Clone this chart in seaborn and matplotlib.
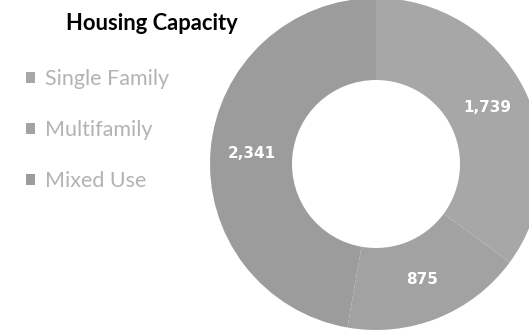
import matplotlib
matplotlib.use("Agg")
import matplotlib.pyplot as plt
import seaborn as sns

# housing capacity by type
categories = ["Single Family", "Multifamily", "Mixed Use"]
units = [1739, 875, 2341]
greys = ["#a7a7a7", "#a2a2a2", "#9c9c9c"]

sns.set_theme(style="white")
plt.rcParams["font.family"] = ["Lato", "DejaVu Sans"]

fig = plt.figure(figsize=(5.29, 3.30), dpi=100)
# pie centred at about (376, 164) px, radius ~166 px
ax = fig.add_axes([(376 - 166) / 529, (330 - 164 - 166) / 330, 332 / 529, 332 / 330])

wedges, texts, autotexts = ax.pie(
    units,
    colors=greys,
    startangle=90,
    counterclock=False,
    autopct=lambda p: f"{p * sum(units) / 100:,.0f}",
    pctdistance=0.75,
    wedgeprops=dict(width=0.494, edgecolor="none"),
    textprops=dict(color="white", fontsize=11, fontweight="bold", family="DejaVu Sans"),
)
ax.set_xlim(-1, 1)
ax.set_ylim(-1, 1)
ax.set_aspect("equal")
ax.axis("off")

fig.text(152 / 529, 1 - 23 / 330, "Housing Capacity", ha="center", va="center",
         fontsize=15.8, fontweight="bold", color="black")

fig.legend(wedges, categories, loc="upper left",
           bbox_to_anchor=(26 / 529, 1 - 69 / 330),
           frameon=False, fontsize=15.5, labelcolor="#b3b3b3",
           handlelength=0.42, handleheight=0.42, handletextpad=0.45,
           labelspacing=1.45, borderpad=0, borderaxespad=0)

fig.savefig("out.png", dpi=100)
